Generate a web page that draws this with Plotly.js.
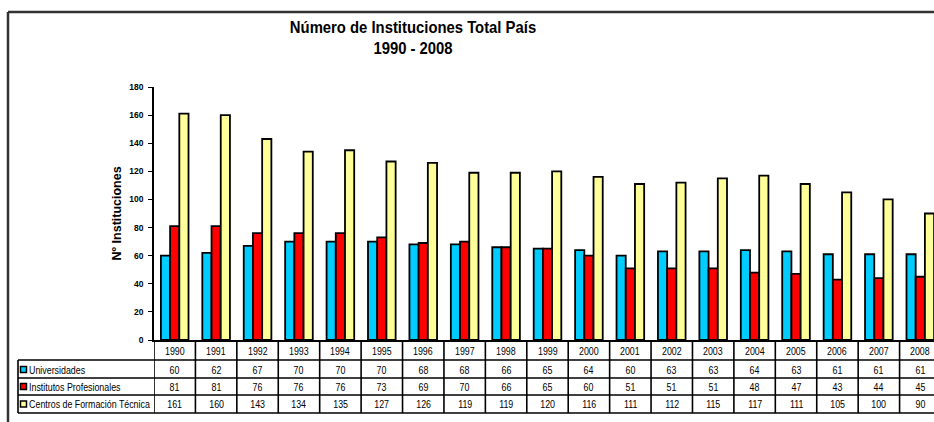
<!DOCTYPE html>
<html>
<head>
<meta charset="utf-8">
<script src="https://cdn.plot.ly/plotly-3.0.1.min.js"></script>
<style>
html, body { margin: 0; padding: 0; overflow: hidden; background: #fff; }
#chart { width: 944px; height: 422px; }
</style>
</head>
<body>
<div id="chart"></div>
<script>
// ---- data ----
const years = ['1990','1991','1992','1993','1994','1995','1996','1997','1998','1999','2000','2001','2002','2003','2004','2005','2006','2007','2008'];
const seriesNames = ['Universidades', 'Institutos Profesionales', 'Centros de Formación Técnica'];
const universidades = [60,62,67,70,70,70,68,68,66,65,64,60,63,63,64,63,61,61,61];
const institutos = [81,81,76,76,76,73,69,70,66,65,60,51,51,51,48,47,43,44,45];
const centros = [161,160,143,134,135,127,126,119,119,120,116,111,112,115,117,111,105,100,90];
const yTicks = [0,20,40,60,80,100,120,140,160,180];

const colors = ['#00CCFF', '#FF0000', '#FFFF99'];
const values = [universidades, institutos, centros];

const sans = 'Liberation Sans, Arial, sans-serif';

const W = 944, H = 422;
const mL = 154, mR = 3, mT = 87, mB = 82;
const plotW = W - mL - mR, plotH = H - mT - mB;
// helpers: pixel -> paper
const px = x => (x - mL) / plotW;
const py = y => (H - mB - y) / plotH;

const traces = values.map((v, i) => ({
  type: 'bar',
  name: seriesNames[i],
  x: years,
  y: v,
  marker: { color: colors[i], line: { color: '#000', width: 1.8 } },
  hoverinfo: 'x+y+name'
}));

const shapes = [];
const annotations = [];
const condensed = []; // [annotation index, origin]

// outer frame (left and top)
shapes.push({ type: 'line', xref: 'paper', yref: 'paper', x0: px(8), x1: px(W + 10), y0: py(12), y1: py(12), line: { color: '#333', width: 2.5 } });
shapes.push({ type: 'line', xref: 'paper', yref: 'paper', x0: px(8), x1: px(8), y0: py(12), y1: py(H + 10), line: { color: '#333', width: 2.5 } });

// data table grid
const rowLines = [360, 378, 395, 413];
rowLines.forEach(y => {
  shapes.push({ type: 'line', xref: 'paper', yref: 'paper', x0: px(18), x1: 1.02, y0: py(y), y1: py(y), line: { color: '#000', width: 1.6 } });
});
for (let i = 0; i <= years.length; i++) {
  shapes.push({ type: 'line', xref: 'x', yref: 'paper', x0: i - 0.5, x1: i - 0.5, y0: 0, y1: py(413), line: { color: '#000', width: 1.6 } });
}
shapes.push({ type: 'line', xref: 'paper', yref: 'paper', x0: px(18), x1: px(18), y0: py(360), y1: py(413), line: { color: '#000', width: 1.6 } });

const tableFont = { family: sans, size: 11.5, color: '#000' };

// header row: years (category index positions)
const headerY = py(351);
years.forEach((yr, i) => {
  condensed.push([annotations.length, 'center']);
  annotations.push({ xref: 'x', yref: 'paper', x: i, y: headerY, text: yr, showarrow: false, font: tableFont, xanchor: 'center', yanchor: 'middle' });
});

// value rows
const rowCenters = [369.5, 386.5, 404];
values.forEach((v, s) => {
  const yy = py(rowCenters[s]);
  shapes.push({ type: 'rect', xref: 'paper', yref: 'paper', x0: px(20.5), x1: px(26.5), y0: py(rowCenters[s] + 3), y1: py(rowCenters[s] - 3), fillcolor: colors[s], line: { color: '#000', width: 1.5 } });
  condensed.push([annotations.length, 'left']);
  annotations.push({ xref: 'paper', yref: 'paper', x: px(26.5), y: yy, text: seriesNames[s], showarrow: false, font: tableFont, xanchor: 'left', yanchor: 'middle' });
  v.forEach((val, i) => {
    condensed.push([annotations.length, 'center']);
    annotations.push({ xref: 'x', yref: 'paper', x: i, y: yy, text: String(val), showarrow: false, font: tableFont, xanchor: 'center', yanchor: 'middle' });
  });
});

// y-axis title
annotations.push({ xref: 'paper', yref: 'paper', x: px(116), y: 0.5, text: '<b>Nº Instituciones</b>', textangle: -90, showarrow: false, font: { family: sans, size: 12.5, color: '#000' }, xanchor: 'center', yanchor: 'middle' });

const layout = {
  width: W, height: H,
  margin: { l: mL, r: mR, t: mT, b: mB, pad: 0 },
  paper_bgcolor: '#fff', plot_bgcolor: '#fff',
  showlegend: false,
  barmode: 'group',
  bargap: 0.333,
  bargroupgap: 0,
  title: {
    text: '<b>Número de Instituciones Total País<br>1990 - 2008</b>',
    xref: 'container', yref: 'container',
    x: 413 / W, xanchor: 'center',
    y: 1 - 33 / H, yanchor: 'top',
    font: { family: sans, size: 16.5, color: '#000' }
  },
  xaxis: {
    type: 'category',
    range: [-0.5, years.length - 0.5],
    showticklabels: false, ticks: '',
    showgrid: false, zeroline: false,
    showline: true, linecolor: '#000', linewidth: 1.6,
    fixedrange: true
  },
  yaxis: {
    range: [0, 180],
    tickvals: yTicks,
    ticktext: yTicks.map(t => '<b>' + t + '</b>'),
    ticks: 'outside', ticklen: 4, tickwidth: 1.2, tickcolor: '#000',
    ticklabelstandoff: 3,
    tickfont: { family: sans, size: 8.5, color: '#000' },
    showgrid: false, zeroline: false,
    showline: true, linecolor: '#000', linewidth: 1.6,
    fixedrange: true
  },
  shapes: shapes,
  annotations: annotations
};

function squeeze(el, origin, k) {
  el.style.transformBox = 'fill-box';
  el.style.transformOrigin = origin;
  el.style.transform = 'scaleX(' + k + ')';
}

function condense() {
  condensed.forEach(([idx, origin]) => {
    const t = document.querySelector('#chart .annotation[data-index="' + idx + '"] text.annotation-text');
    if (t) squeeze(t, origin === 'left' ? 'left center' : 'center center', 0.77);
  });
  const title = document.querySelector('#chart .gtitle');
  if (title) squeeze(title, 'center center', 0.9);
}

Plotly.newPlot('chart', traces, layout, { displayModeBar: false }).then(condense);
</script>
</body>
</html>
